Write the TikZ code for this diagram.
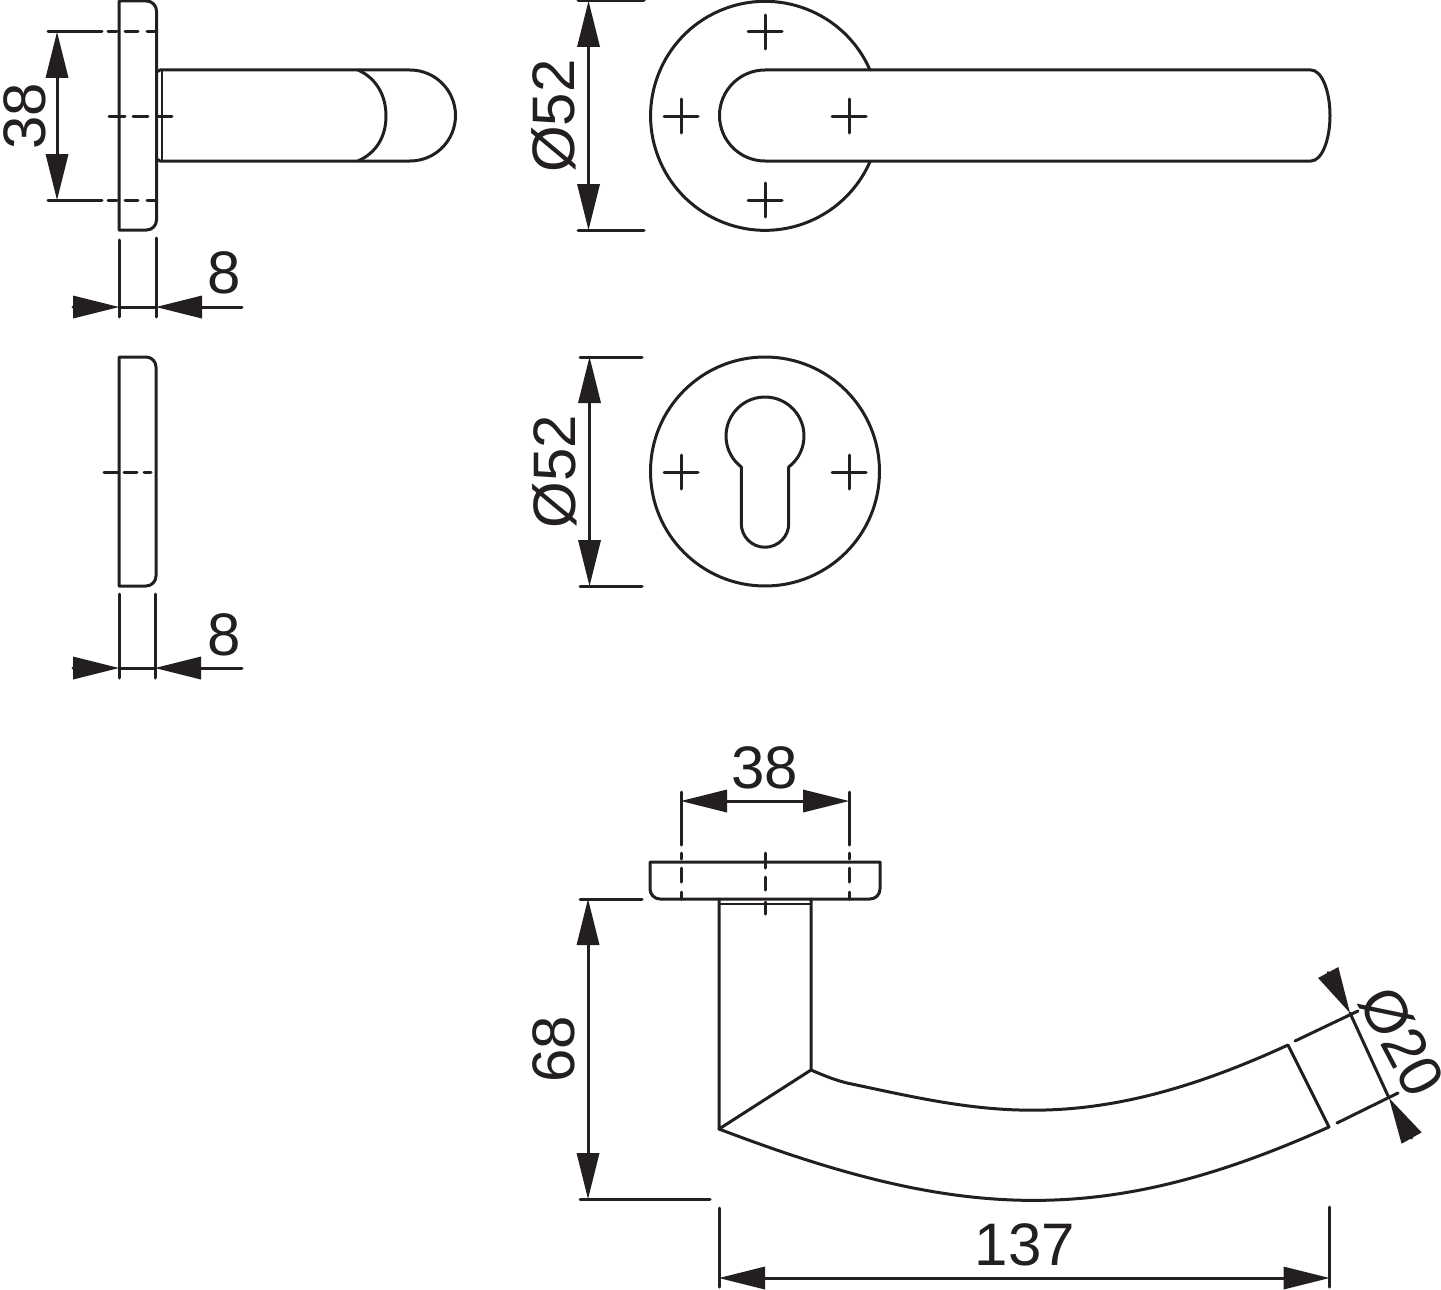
\documentclass[tikz,border=0pt]{standalone}
\usepackage{fontspec}
\setmainfont{Liberation Sans}
\usetikzlibrary{arrows.meta}
\definecolor{ink}{HTML}{231F20}
\tikzset{
  part/.style={draw=ink,line width=3pt,line join=round,line cap=round},
  dimline/.style={draw=ink,line width=3pt,line cap=round},
  dimtext/.style={text=ink,inner sep=0pt,text height=43pt,text depth=0pt,font=\fontsize{60}{60}\selectfont},
  screw/.pic={\draw[part] (-17,0) -- (17,0) (0,-17) -- (0,17);}
}
\begin{document}
\begin{tikzpicture}[x=1pt,y=1pt,>={Triangle[length=46pt,width=23pt,line width=0pt]}]
\useasboundingbox[fill=white] (0,0) rectangle (1441,-1290);

% side view, handle rose
\draw[part] (119,-1) -- (146.5,-1) arc[start angle=90,end angle=0,radius=10] -- (156.5,-220)
  arc[start angle=0,end angle=-90,radius=10] -- (119,-230) -- cycle;
\draw[part] (156.5,-72) -- (160,-70) -- (410,-70) arc[start angle=90,end angle=-90,radius=45.5]
  -- (160,-161) -- (156.5,-159);
\draw[part,line width=2pt] (162,-71) -- (162,-160);
\draw[part] (358,-70) .. controls (376,-78) and (386,-95) .. (386,-116)
  .. controls (386,-137) and (376,-153) .. (358,-161);
\foreach \a/\b in {109/125,133/148,158/172} \draw[dimline] (\a,-116) -- (\b,-116);
\foreach \y in {-32,-200} {
  \draw[dimline] (48,\y) -- (102,\y);
  \foreach \a/\b in {108/117,125/138,147/155} \draw[dimline] (\a,\y) -- (\b,\y);
}
\coordinate (a1) at (57,-32);
\coordinate (a2) at (57,-200);
\draw[dimline,<->] (a1) -- (a2);
\node[dimtext,rotate=90] (h38) at (24,-116) {38};

% width of the rose
\draw[dimline] (119,-240) -- (119,-317) (156,-238) -- (156,-317);
\coordinate (b1) at (73,-307);
\coordinate (b2) at (119,-307);
\coordinate (b3) at (156,-307);
\coordinate (b4) at (242,-307);
\draw[dimline,->] (b1) -- (b2);
\draw[dimline] (b2) -- (b3);
\draw[dimline,->] (b4) -- (b3);
\node[dimtext] (w8a) at (224,-272) {8};

% side view, key rose
\draw[part] (119,-357) -- (146,-357) arc[start angle=90,end angle=0,radius=10] -- (156,-576)
  arc[start angle=0,end angle=-90,radius=10] -- (119,-586) -- cycle;
\foreach \a/\b in {104/118,124/137,144/151} \draw[dimline] (\a,-472) -- (\b,-472);
\draw[dimline] (119,-594) -- (119,-678) (155,-594) -- (155,-678);
\coordinate (c1) at (73,-668);
\coordinate (c2) at (119,-668);
\coordinate (c3) at (155,-668);
\coordinate (c4) at (242,-668);
\draw[dimline,->] (c1) -- (c2);
\draw[dimline] (c2) -- (c3);
\draw[dimline,->] (c4) -- (c3);
\node[dimtext] (w8b) at (224,-634) {8};

% front view, handle
\draw[part] (870,-70) arc[start angle=23.6,end angle=336.4,radius=114.5];
\draw[part] (765,-70) -- (1311,-70) arc[start angle=90,end angle=-90,x radius=19,y radius=45.5]
  -- (765,-161) arc[start angle=270,end angle=90,radius=45.5];
\foreach \x/\y in {765/-32,765/-200,681/-116,849/-116} \pic at (\x,\y) {screw};
\draw[dimline] (578,-1) -- (644,-1) (578,-230) -- (644,-230);
\coordinate (d1) at (588.5,-1);
\coordinate (d2) at (588.5,-230);
\draw[dimline,<->] (d1) -- (d2);
\node[dimtext,rotate=90] (d52a) at (553,-116) {Ø52};

% front view, key rose
\draw[part] (765,-471.5) circle[radius=114.5];
\draw[part] (788.74,-466.94) arc[start angle=-52.5,end angle=232.5,radius=39]
  -- (741.26,-523.5) arc[start angle=180,end angle=360,radius=23.74] -- cycle;
\foreach \x in {681,849} \pic at (\x,-472) {screw};
\draw[dimline] (580,-357) -- (642,-357) (580,-586) -- (642,-586);
\coordinate (e1) at (589.5,-357);
\coordinate (e2) at (589.5,-586);
\draw[dimline,<->] (e1) -- (e2);
\node[dimtext,rotate=90] (d52b) at (554,-471.5) {Ø52};

% top view
\draw[part] (650,-862) -- (880,-862) -- (880,-889) arc[start angle=0,end angle=-90,radius=10]
  -- (660,-899) arc[start angle=270,end angle=180,radius=10] -- cycle;
\foreach \x in {681,849} {
  \draw[dimline] (\x,-792) -- (\x,-845);
  \foreach \a/\b in {853/859,868/882,892/899} \draw[dimline] (\x,-\a) -- (\x,-\b);
}
\foreach \a/\b in {853/868,877/890,902/914} \draw[dimline] (765,-\a) -- (765,-\b);
\coordinate (f1) at (681,-801);
\coordinate (f2) at (849,-801);
\draw[dimline,<->] (f1) -- (f2);
\node[dimtext] (t38) at (765,-767) {38};

\draw[part] (719,-899) -- (719,-1129) -- (811,-1070) -- (811,-899);
\draw[part,line width=2pt] (720,-904) -- (810,-904);
\draw[part] (811,-1070) .. controls (825,-1076) and (835,-1080) .. (847,-1083)
  .. controls (980,-1111) and (1082,-1140) .. (1288,-1045) -- (1329,-1127)
  .. controls (1104,-1228) and (960,-1221) .. (719,-1129);

% height
\draw[dimline] (580,-899) -- (642,-899) (580,-1199) -- (710,-1199);
\coordinate (g1) at (588,-899);
\coordinate (g2) at (588,-1199);
\draw[dimline,<->] (g1) -- (g2);
\node[dimtext,rotate=90] (h68) at (553,-1049) {68};

% length
\draw[dimline] (719,-1208) -- (719,-1287) (1329.5,-1207) -- (1329.5,-1287);
\coordinate (k1) at (719,-1278);
\coordinate (k2) at (1329.5,-1278);
\draw[dimline,<->] (k1) -- (k2);
\node[dimtext] (l137) at (1025,-1244) {137};

% grip diameter
\draw[dimline] (1295,-1041) -- (1358,-1011) (1337,-1123) -- (1398,-1093);
\coordinate (m1) at (1329,-974);
\coordinate (m2) at (1350,-1013);
\coordinate (m3) at (1389,-1098);
\coordinate (m4) at (1411,-1137);
\draw[dimline,->] (m1) -- (m2);
\draw[dimline] (m2) -- (m3);
\draw[dimline,->] (m4) -- (m3);
\node[dimtext,rotate=-62] (d20) at (1403,-1041) {Ø20};
\end{tikzpicture}
\end{document}
